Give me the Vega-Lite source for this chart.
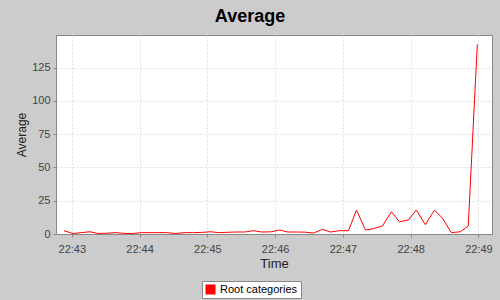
{
  "$schema": "https://vega.github.io/schema/vega-lite/v6.json",
  "width": 436,
  "height": 199,
  "autosize": {"type": "none"},
  "padding": {"left": 56, "top": 35, "right": 8, "bottom": 66},
  "background": "#cccccc",
  "title": {
    "text": "Average",
    "fontSize": 18,
    "font": "Liberation Sans",
    "fontWeight": "bold",
    "color": "#000000",
    "anchor": "middle",
    "dx": -24,
    "offset": 9
  },
  "config": {
    "view": {"fill": "white", "stroke": "#888888", "strokeWidth": 1},
    "axis": {
      "labelFont": "Liberation Sans",
      "titleFont": "Liberation Sans",
      "labelFontSize": 11,
      "titleFontSize": 12,
      "titleFontWeight": "normal",
      "labelColor": "#444444",
      "titleColor": "#222222",
      "domainColor": "#888888",
      "tickColor": "#888888",
      "tickSize": 3,
      "gridColor": "#dddddd",
      "gridDash": [2, 2]
    }
  },
  "data": {
    "values": [
      {"time": "2024-01-01T22:42:53", "value": 2.5, "series": "Root categories"},
      {"time": "2024-01-01T22:43:01", "value": 0.3, "series": "Root categories"},
      {"time": "2024-01-01T22:43:08", "value": 1.0, "series": "Root categories"},
      {"time": "2024-01-01T22:43:16", "value": 1.7, "series": "Root categories"},
      {"time": "2024-01-01T22:43:23", "value": 0.4, "series": "Root categories"},
      {"time": "2024-01-01T22:43:31", "value": 0.6, "series": "Root categories"},
      {"time": "2024-01-01T22:43:39", "value": 1.0, "series": "Root categories"},
      {"time": "2024-01-01T22:43:46", "value": 0.5, "series": "Root categories"},
      {"time": "2024-01-01T22:43:54", "value": 0.4, "series": "Root categories"},
      {"time": "2024-01-01T22:44:02", "value": 1.0, "series": "Root categories"},
      {"time": "2024-01-01T22:44:09", "value": 1.0, "series": "Root categories"},
      {"time": "2024-01-01T22:44:17", "value": 1.0, "series": "Root categories"},
      {"time": "2024-01-01T22:44:24", "value": 1.0, "series": "Root categories"},
      {"time": "2024-01-01T22:44:32", "value": 0.4, "series": "Root categories"},
      {"time": "2024-01-01T22:44:40", "value": 1.0, "series": "Root categories"},
      {"time": "2024-01-01T22:44:47", "value": 1.0, "series": "Root categories"},
      {"time": "2024-01-01T22:44:55", "value": 1.2, "series": "Root categories"},
      {"time": "2024-01-01T22:45:03", "value": 1.7, "series": "Root categories"},
      {"time": "2024-01-01T22:45:10", "value": 1.0, "series": "Root categories"},
      {"time": "2024-01-01T22:45:18", "value": 1.3, "series": "Root categories"},
      {"time": "2024-01-01T22:45:25", "value": 1.5, "series": "Root categories"},
      {"time": "2024-01-01T22:45:33", "value": 1.5, "series": "Root categories"},
      {"time": "2024-01-01T22:45:41", "value": 2.5, "series": "Root categories"},
      {"time": "2024-01-01T22:45:48", "value": 1.5, "series": "Root categories"},
      {"time": "2024-01-01T22:45:56", "value": 1.6, "series": "Root categories"},
      {"time": "2024-01-01T22:46:04", "value": 3.0, "series": "Root categories"},
      {"time": "2024-01-01T22:46:11", "value": 1.5, "series": "Root categories"},
      {"time": "2024-01-01T22:46:19", "value": 1.5, "series": "Root categories"},
      {"time": "2024-01-01T22:46:26", "value": 1.4, "series": "Root categories"},
      {"time": "2024-01-01T22:46:34", "value": 0.7, "series": "Root categories"},
      {"time": "2024-01-01T22:46:42", "value": 3.5, "series": "Root categories"},
      {"time": "2024-01-01T22:46:49", "value": 1.5, "series": "Root categories"},
      {"time": "2024-01-01T22:46:57", "value": 2.5, "series": "Root categories"},
      {"time": "2024-01-01T22:47:05", "value": 2.5, "series": "Root categories"},
      {"time": "2024-01-01T22:47:12", "value": 18.0, "series": "Root categories"},
      {"time": "2024-01-01T22:47:20", "value": 3.0, "series": "Root categories"},
      {"time": "2024-01-01T22:47:27", "value": 4.0, "series": "Root categories"},
      {"time": "2024-01-01T22:47:35", "value": 6.0, "series": "Root categories"},
      {"time": "2024-01-01T22:47:43", "value": 16.7, "series": "Root categories"},
      {"time": "2024-01-01T22:47:50", "value": 9.2, "series": "Root categories"},
      {"time": "2024-01-01T22:47:58", "value": 10.5, "series": "Root categories"},
      {"time": "2024-01-01T22:48:05", "value": 18.0, "series": "Root categories"},
      {"time": "2024-01-01T22:48:13", "value": 7.0, "series": "Root categories"},
      {"time": "2024-01-01T22:48:21", "value": 18.0, "series": "Root categories"},
      {"time": "2024-01-01T22:48:28", "value": 12.0, "series": "Root categories"},
      {"time": "2024-01-01T22:48:36", "value": 1.0, "series": "Root categories"},
      {"time": "2024-01-01T22:48:44", "value": 1.7, "series": "Root categories"},
      {"time": "2024-01-01T22:48:51", "value": 6.0, "series": "Root categories"},
      {"time": "2024-01-01T22:48:59", "value": 142.5, "series": "Root categories"}
    ]
  },
  "mark": {"type": "line", "strokeWidth": 1, "interpolate": "linear"},
  "encoding": {
    "x": {
      "field": "time",
      "type": "temporal",
      "title": "Time",
      "scale": {
        "domain": [
          {"year": 2024, "month": 1, "date": 1, "hours": 22, "minutes": 42, "seconds": 46},
          {"year": 2024, "month": 1, "date": 1, "hours": 22, "minutes": 49, "seconds": 12}
        ]
      },
      "axis": {
        "format": "%H:%M",
        "values": [
          {"year": 2024, "month": 1, "date": 1, "hours": 22, "minutes": 43},
          {"year": 2024, "month": 1, "date": 1, "hours": 22, "minutes": 44},
          {"year": 2024, "month": 1, "date": 1, "hours": 22, "minutes": 45},
          {"year": 2024, "month": 1, "date": 1, "hours": 22, "minutes": 46},
          {"year": 2024, "month": 1, "date": 1, "hours": 22, "minutes": 47},
          {"year": 2024, "month": 1, "date": 1, "hours": 22, "minutes": 48},
          {"year": 2024, "month": 1, "date": 1, "hours": 22, "minutes": 49}
        ],
        "labelPadding": 6,
        "titlePadding": 3,
        "titleFontSize": 13,
        "labelFontSize": 11
      }
    },
    "y": {
      "field": "value",
      "type": "quantitative",
      "title": "Average",
      "scale": {"domain": [0, 149.5], "nice": false},
      "axis": {
        "values": [0, 25, 50, 75, 100, 125],
        "labelPadding": 3,
        "titlePadding": 3,
        "labelFontSize": 11
      }
    },
    "color": {
      "field": "series",
      "type": "nominal",
      "scale": {"range": ["#ff0000"]},
      "legend": {
        "title": null,
        "orient": "none",
        "legendX": 146,
        "legendY": 246,
        "symbolType": "square",
        "symbolSize": 100,
        "symbolStrokeWidth": 0,
        "symbolFillColor": "#ff0000",
        "labelFont": "Liberation Sans",
        "labelFontSize": 11,
        "labelColor": "#000000",
        "fillColor": "#ffffff",
        "strokeColor": "#888888",
        "padding": 3,
        "labelOffset": 4
      }
    }
  }
}
